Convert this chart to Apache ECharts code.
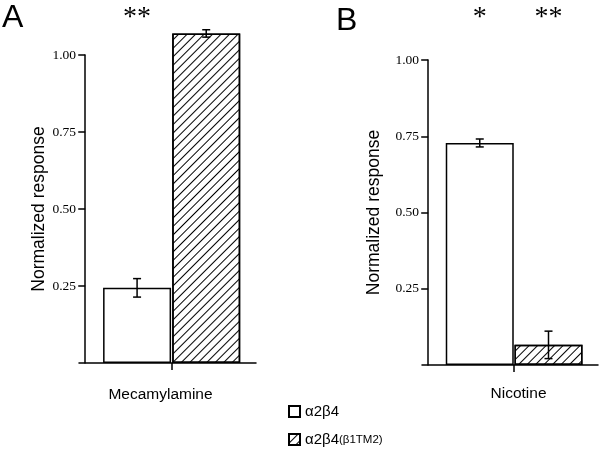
<!DOCTYPE html>
<html>
<head>
<meta charset="utf-8">
<script src="https://cdn.jsdelivr.net/npm/echarts@6/dist/echarts.min.js"></script>
<style>
  html, body { margin: 0; padding: 0; background: #fff; }
  #chart { width: 601px; height: 451px; }
</style>
</head>
<body>
<div id="chart"></div>
<script>
// data
const categories = ["Mecamylamine", "Nicotine"];
const seriesNames = ["α2β4", "α2β4(β1TM2)"];
const wtValues = [0.244, 0.728];      // α2β4
const wtErr = [0.03, 0.013];
const chimValues = [1.07, 0.066];     // α2β4(β1TM2)
const chimErr = [0.012, 0.045];
const sigWt = ["**", "*"];
const sigChim = ["", "**"];
const yTicks = [0, 0.25, 0.5, 0.75, 1.0];
const barPos = [0.75, 1.75]; // bar centres on the x scale, tick between them
const tickPos = 1.25;

const chart = echarts.init(document.getElementById("chart"));

const hatch = {
  symbol: "rect",
  symbolSize: 1,
  color: "#000",
  dashArrayX: [1, 0],
  dashArrayY: [1, 5],
  rotation: -Math.PI / 4,
};

function renderErr(params, api) {
  const x = api.value(0), y = api.value(1), e = api.value(2);
  const top = api.coord([x, y + e]);
  const bot = api.coord([x, y - e]);
  const hw = 4;
  const st = { stroke: "#000", lineWidth: 1.5 };
  return {
    type: "group",
    children: [
      { type: "line", shape: { x1: top[0], y1: top[1], x2: bot[0], y2: bot[1] }, style: st },
      { type: "line", shape: { x1: top[0] - hw, y1: top[1], x2: top[0] + hw, y2: top[1] }, style: st },
      { type: "line", shape: { x1: bot[0] - hw, y1: bot[1], x2: bot[0] + hw, y2: bot[1] }, style: st },
    ],
  };
}

const sigText = {};
function renderSig(params, api) {
  const p = api.coord([api.value(0), 0]);
  return {
    type: "text",
    x: p[0],
    y: 18,
    style: {
      text: sigText[params.seriesIndex][params.dataIndex],
      fontSize: 28,
      fontFamily: "Liberation Serif",
      align: "center",
      verticalAlign: "middle",
      fill: "#000",
    },
  };
}

const grids = [
  { left: 79, right: 345, top: 55, bottom: 88 },
  { left: 422, right: 3, top: 60, bottom: 86 },
];
const namePad = [[0, 14, 0, 0], [0, 0, 0, 17]];
const xNameGap = [24, 21];
const yNameGap = [31, 39];

const xAxes = [], yAxes = [], series = [];
grids.forEach(function (g, i) {
  xAxes.push({
    type: "value",
    gridIndex: i,
    min: -0.09,
    max: 2.47,
    name: categories[i],
    nameLocation: "middle",
    nameGap: xNameGap[i],
    nameTextStyle: { fontFamily: "Liberation Sans", fontSize: 15.5, color: "#000", padding: namePad[i] },
    axisLine: { lineStyle: { color: "#000", width: 1.5 } },
    axisTick: { customValues: [tickPos], length: 7, lineStyle: { color: "#000", width: 1.5 } },
    axisLabel: { show: false },
    splitLine: { show: false },
  });
  yAxes.push({
    type: "value",
    gridIndex: i,
    min: 0,
    max: 1,
    interval: 0.25,
    name: "Normalized response",
    nameLocation: "middle",
    nameGap: yNameGap[i],
    nameTextStyle: { fontFamily: "Liberation Sans", fontSize: 17.5, color: "#000" },
    axisLine: { onZero: true, lineStyle: { color: "#000", width: 1.5 } },
    axisTick: { customValues: yTicks.slice(1), length: 7, lineStyle: { color: "#000", width: 1.5 } },
    axisLabel: {
      customValues: yTicks.slice(1),
      margin: 3,
      fontFamily: "Liberation Serif",
      fontSize: 13.5,
      color: "#000",
      formatter: function (v) { return v.toFixed(2); },
    },
    splitLine: { show: false },
  });

  series.push({
    name: seriesNames[0],
    type: "bar",
    xAxisIndex: i,
    yAxisIndex: i,
    barWidth: 68,
    clip: false,
    itemStyle: { color: "#fff", borderColor: "#000", borderWidth: 1.5 },
    data: [[barPos[0], wtValues[i]]],
  });
  series.push({
    name: seriesNames[1],
    type: "bar",
    xAxisIndex: i,
    yAxisIndex: i,
    barWidth: 68,
    barGap: "-100%",
    clip: false,
    itemStyle: { color: "#fff", borderColor: "#000", borderWidth: 1.5, decal: hatch },
    data: [[barPos[1], chimValues[i]]],
  });
  series.push({
    type: "custom",
    xAxisIndex: i,
    yAxisIndex: i,
    clip: false,
    z: 5,
    renderItem: renderErr,
    data: [
      [barPos[0], wtValues[i], wtErr[i]],
      [barPos[1], chimValues[i], chimErr[i]],
    ],
  });
  sigText[series.length] = [sigWt[i], sigChim[i]];
  series.push({
    type: "custom",
    xAxisIndex: i,
    yAxisIndex: i,
    clip: false,
    renderItem: renderSig,
    data: [[barPos[0]], [barPos[1]]],
  });
});

// one legend box per entry, stacked under the panels
const legendBase = {
  icon: "rect",
  itemWidth: 11,
  itemHeight: 11,
  itemGap: 6,
  selectedMode: false,
  left: 288,
  textStyle: {
    fontFamily: "Liberation Sans",
    fontSize: 15,
    color: "#000",
    rich: { s: { fontFamily: "Liberation Sans", fontSize: 11.5, color: "#000" } },
  },
  formatter: function (name) {
    return name === seriesNames[1] ? "α2β4{s|(β1TM2)}" : name;
  },
};
const legendTops = [404, 432];

chart.setOption({
  animation: false,
  backgroundColor: "#fff",
  grid: grids,
  xAxis: xAxes,
  yAxis: yAxes,
  legend: seriesNames.map(function (n, k) {
    return Object.assign({}, legendBase, { data: [n], top: legendTops[k], padding: 0 });
  }),
  graphic: [
    { type: "text", left: 2, top: 2, style: { text: "A", fontFamily: "Liberation Sans", fontSize: 32, fill: "#000" } },
    { type: "text", left: 336, top: 5, style: { text: "B", fontFamily: "Liberation Sans", fontSize: 32, fill: "#000" } },
  ],
  series: series,
});
</script>
</body>
</html>
